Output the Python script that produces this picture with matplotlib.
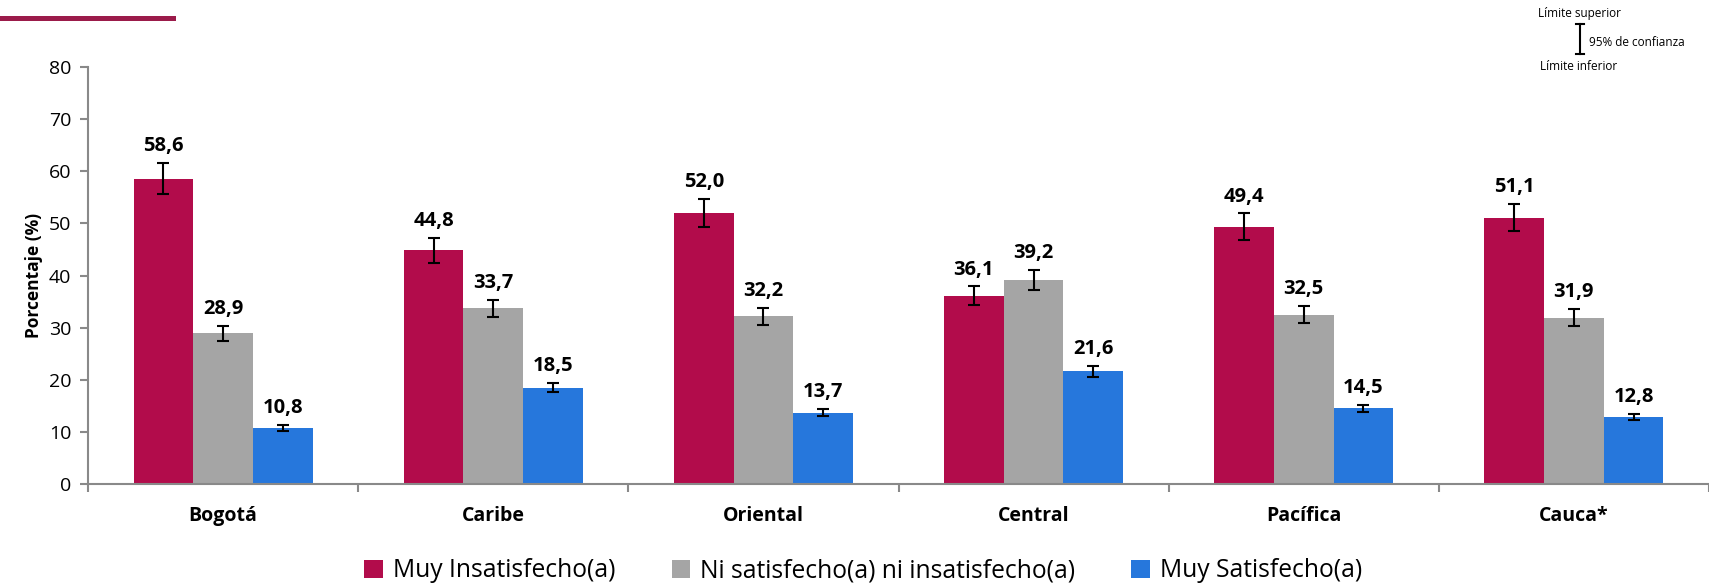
import matplotlib.pyplot as plt
import numpy as np

plt.rcParams['font.family'] = ['Open Sans', 'DejaVu Sans']

regiones = ['Bogotá', 'Caribe', 'Oriental', 'Central', 'Pacífica', 'Cauca*']
series = ['Muy Insatisfecho(a)', 'Ni satisfecho(a) ni insatisfecho(a)', 'Muy Satisfecho(a)']
colores = ['#B20C4B', '#A5A5A5', '#2677DC']

muy_insatisfecho = [58.6, 44.8, 52.0, 36.1, 49.4, 51.1]
ni_ni = [28.9, 33.7, 32.2, 39.2, 32.5, 31.9]
muy_satisfecho = [10.8, 18.5, 13.7, 21.6, 14.5, 12.8]

err_insatisfecho = [3.0, 2.4, 2.6, 1.8, 2.5, 2.6]
err_ni_ni = [1.5, 1.6, 1.6, 1.9, 1.6, 1.6]
err_satisfecho = [0.6, 0.9, 0.7, 1.1, 0.7, 0.6]

valores = [muy_insatisfecho, ni_ni, muy_satisfecho]
errores = [err_insatisfecho, err_ni_ni, err_satisfecho]

fig = plt.figure(figsize=(17.09, 5.85), dpi=100)
ax = fig.add_axes([0.0515, 0.1726, 0.9485, 0.7129])

x = np.arange(len(regiones))
ancho = 0.221
for i, (vals, errs) in enumerate(zip(valores, errores)):
    pos = x + (i - 1) * ancho
    ax.bar(pos, vals, ancho, color=colores[i], label=series[i], zorder=2)
    ax.errorbar(pos, vals, yerr=errs, fmt='none', ecolor='black',
                elinewidth=1.5, capsize=4.5, capthick=1.5, zorder=3)
    for p, v, e in zip(pos, vals, errs):
        ax.annotate(f'{v:.1f}'.replace('.', ','), (p, v + e), xytext=(0, 5),
                    textcoords='offset points', ha='center', va='bottom',
                    fontsize=14.5, fontweight='bold')

ax.set_xlim(-0.5, 5.5)
ax.set_ylim(0, 80)
ax.set_yticks(range(0, 81, 10))
ax.tick_params(axis='y', labelsize=14, length=6, color='#898989', width=1.5, pad=6)

ax.set_xticks(np.arange(-0.5, 6, 1))
ax.set_xticklabels([])
ax.set_xticks(x, minor=True)
ax.set_xticklabels(regiones, minor=True, fontsize=14, fontweight='bold')
ax.tick_params(axis='x', which='major', length=6, color='#898989', width=1.5)
ax.tick_params(axis='x', which='minor', length=0, pad=16)

for s in ['top', 'right']:
    ax.spines[s].set_visible(False)
for s in ['left', 'bottom']:
    ax.spines[s].set_color('#898989')
    ax.spines[s].set_linewidth(1.5)

ax.set_ylabel('Porcentaje (%)', fontsize=12.5, fontweight='bold', labelpad=4)

fig.legend(loc='lower center', bbox_to_anchor=(0.505, -0.035), ncol=3, frameon=False,
           fontsize=17.7, handlelength=0.75, handleheight=0.75, handletextpad=0.4,
           columnspacing=2.3)

# línea decorativa superior
fig.add_artist(plt.Line2D([0, 173 / 1709], [1 - 17.7 / 585] * 2, color='#9B1B4A', lw=3.6))

# leyenda del intervalo de confianza
fig.text(1579 / 1709, 1 - 14 / 585, 'Límite superior', ha='center', va='center', fontsize=8.5)
fig.text(1579 / 1709, 1 - 67 / 585, 'Límite inferior', ha='center', va='center', fontsize=8.5)
fig.text(1589 / 1709, 1 - 42 / 585, '95% de confianza', ha='left', va='center', fontsize=8.5)
xc = 1580 / 1709
y1, y2 = 1 - 24 / 585, 1 - 54 / 585
fig.add_artist(plt.Line2D([xc, xc], [y1, y2], color='black', lw=1.5))
for yy in (y1, y2):
    fig.add_artist(plt.Line2D([xc - 4 / 1709, xc + 4 / 1709], [yy, yy], color='black', lw=1.5))

fig.savefig('out.png', dpi=100)
